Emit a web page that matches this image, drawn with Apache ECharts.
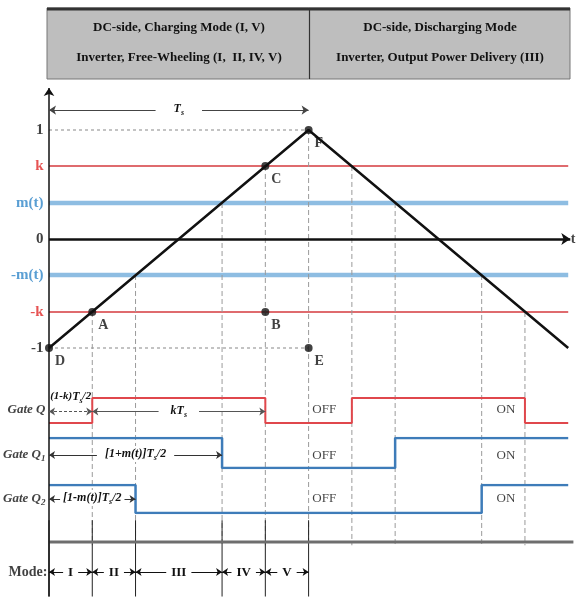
<!DOCTYPE html>
<html><head><meta charset="utf-8">
<script src="https://cdn.jsdelivr.net/npm/echarts@6/dist/echarts.min.js"></script>
<style>html,body{margin:0;padding:0;background:#fff}#c{width:576px;height:601px}</style>
</head><body><div id="c"></div>
<script>
// ---------- data ----------
const carrierT = [0, 1, 2];
const carrierV = [-1, 1, -1];
const kLevel = 0.67;
const mLevel = 0.33;
const levelLabels = ['1', 'k', 'm(t)', '0', '-m(t)', '-k', '-1'];
const levelValues = [1, 0.67, 0.33, 0, -0.33, -0.67, -1];
const levelColors = ['#111', '#e02828', '#2f86c8', '#111', '#2f86c8', '#e02828', '#111'];
const switchTimes = [1/6, 1/3, 2/3, 5/6, 1, 7/6, 4/3, 5/3, 11/6];
const switchLevels = [-0.67, -0.33, 0.33, 0.67, 1, 0.67, 0.33, -0.33, -0.67];
const gateQT = [0, 1/6, 5/6, 7/6, 11/6, 2];
const gateQV = [0, 1, 0, 1, 0, 0];
const gateQ1T = [0, 2/3, 4/3, 2];
const gateQ1V = [1, 0, 1, 1];
const gateQ2T = [0, 1/3, 5/3, 2];
const gateQ2V = [1, 0, 1, 1];
const pointNames = ['D', 'A', 'B', 'C', 'F', 'E'];
const pointT = [0, 1/6, 5/6, 5/6, 1, 1];
const pointV = [-1, -0.67, -0.67, 0.67, 1, -1];
const modeNames = ['I', 'II', 'III', 'IV', 'V'];
const modeBounds = [0, 1/6, 1/3, 2/3, 5/6, 1];
const gateNames = ['Q', 'Q1', 'Q2'];
const stateT = [1.06, 1.76];
const stateText = ['OFF', 'ON'];
const headerLeft = ['DC-side, Charging Mode (I, V)', 'Inverter, Free-Wheeling (I,  II, IV, V)'];
const headerRight = ['DC-side, Discharging Mode', 'Inverter, Output Power Delivery (III)'];

// ---------- layout constants ----------
const SERIF = 'Liberation Serif';
const X_MAX = 2.03;
const Y_TS = 1.183, Y_TOP = 1.385, Y_DASH_END = -2.81, Y_MODE_TOP = -2.58, Y_MODE_BOT = -3.28, Y_MODE_LINE = -2.78, Y_MODE_ARROW = -3.055;

function lineS(gi, data, ls, extra) {
  return Object.assign({
    type: 'line', xAxisIndex: gi, yAxisIndex: gi, data: data, symbol: 'none',
    lineStyle: ls, silent: true, animation: false
  }, extra || {});
}
function mlSeries(gi, lines) {
  return {
    type: 'line', xAxisIndex: gi, yAxisIndex: gi, data: [[0, gi === 0 ? 0 : 0.5]], symbol: 'none',
    lineStyle: {opacity: 0}, silent: true, animation: false, z: 3,
    markLine: {silent: true, animation: false, data: lines}
  };
}
function arrowLine(p0, p1, label, opts) {
  opts = opts || {};
  return [
    {coord: p0, symbol: opts.s0 || 'arrow', symbolSize: opts.size || 7,
      lineStyle: {color: opts.color || '#333', width: opts.width || 1, type: opts.type || 'solid'},
      label: label ? Object.assign({show: true, position: 'middle', distance: -7, fontFamily: SERIF, color: '#111',
        backgroundColor: '#fff', padding: [0, 4]}, label) : {show: false}},
    {coord: p1, symbol: opts.s1 || 'arrow', symbolSize: opts.size || 7}
  ];
}
const richIt = {
  i: {fontFamily: SERIF, fontStyle: 'italic', fontWeight: 'bold', fontSize: 12, color: '#111'},
  s: {fontFamily: SERIF, fontStyle: 'italic', fontWeight: 'bold', fontSize: 8, color: '#111', verticalAlign: 'bottom', padding: [8, 0, 0, 0]},
  n: {fontFamily: SERIF, fontWeight: 'bold', fontSize: 13, color: '#111'}
};
const HIDDEN = {color: 'rgba(0,0,0,0)'};

const series = [];
// horizontal reference levels
[kLevel, -kLevel].forEach(v => series.push(lineS(0, [[0, v], [2, v]], {color: '#df6b6e', width: 2})));
[mLevel, -mLevel].forEach(v => series.push(lineS(0, [[0, v], [2, v]], {color: '#8ebde2', width: 4.5})));
[1, -1].forEach(v => series.push(lineS(0, [[0, v], [1, v]], {color: '#b0b0b0', width: 1.5, type: [3, 3]})));
// vertical dashed lines at switching instants
switchTimes.forEach((t, i) => series.push(lineS(0, [[t, switchLevels[i]], [t, Y_DASH_END]], {color: '#9a9a9a', width: 1, type: [5, 3]})));
// mode row verticals
modeBounds.forEach(t => series.push(lineS(0, [[t, Y_MODE_TOP], [t, Y_MODE_BOT]], {color: '#222', width: 1})));
// mode row horizontal bar
series.push(lineS(0, [[0, Y_MODE_LINE], [2.02, Y_MODE_LINE]], {color: '#6e6e6e', width: 3}));
// carrier triangle
series.push(lineS(0, carrierT.map((t, i) => [t, carrierV[i]]), {color: '#111', width: 2.5}, {z: 5}));
// axes & dimension arrows in wave grid
const waveLines = [
  arrowLine([0, 0], [2.008, 0], null, {s0: 'none', color: '#111', width: 2.5, size: 9}),
  arrowLine([0, Y_MODE_BOT], [0, Y_TOP], null, {s0: 'none', color: '#111', width: 1.5, size: 8}),
  arrowLine([0, Y_TS], [1, Y_TS], {formatter: '{i|T}{s|s}', rich: richIt, padding: [0, 18]}, {color: '#444', width: 1.2}),
];
for (let i = 0; i < modeNames.length; i++) {
  waveLines.push(arrowLine([modeBounds[i], Y_MODE_ARROW], [modeBounds[i + 1], Y_MODE_ARROW],
    {formatter: modeNames[i], fontSize: 13, fontWeight: 'bold', padding: [0, 5]}, {color: '#111', width: 1.2, size: 6}));
}
series.push(mlSeries(0, waveLines));
// points A-F
series.push({
  type: 'scatter', xAxisIndex: 0, yAxisIndex: 0, symbolSize: 8, silent: true, animation: false, z: 6,
  itemStyle: {color: '#111'},
  data: pointNames.map((n, i) => ({value: [pointT[i], pointV[i]], name: n})),
  label: {show: true, position: 'right', offset: [-3, 13], formatter: p => p.name,
    fontFamily: SERIF, fontWeight: 'bold', fontSize: 14, color: '#111'}
});
// level labels
series.push({
  type: 'scatter', xAxisIndex: 0, yAxisIndex: 0, symbolSize: 1, silent: true, animation: false,
  itemStyle: HIDDEN, z: 7,
  data: levelLabels.map((n, i) => ({value: [0, levelValues[i]], name: n,
    label: {color: levelColors[i]}})),
  label: {show: true, position: 'left', distance: 5, formatter: p => p.name,
    fontFamily: SERIF, fontWeight: 'bold', fontSize: 15}
});
// "t" axis label and "Mode:" label
series.push({
  type: 'scatter', xAxisIndex: 0, yAxisIndex: 0, symbolSize: 1, silent: true, animation: false,
  itemStyle: HIDDEN, z: 7,
  data: [
    {value: [2.008, 0], name: 't', label: {position: 'right', distance: 0}},
    {value: [0, Y_MODE_ARROW], name: 'Mode:', label: {position: 'left', distance: 1}}
  ],
  label: {show: true, formatter: p => p.name, fontFamily: SERIF, fontWeight: 'bold', fontSize: 14, color: '#111'}
});

// gate signals
const gateData = [[gateQT, gateQV, '#e0474c', 2], [gateQ1T, gateQ1V, '#3e7cb9', 2.5], [gateQ2T, gateQ2V, '#3e7cb9', 2.5]];
gateData.forEach((g, i) => {
  series.push(lineS(i + 1, g[0].map((t, j) => [t, g[1][j]]), {color: g[2], width: g[3]}, {step: 'end', z: 4}));
});
// gate labels and ON/OFF
const gateLabelY = [0.52, 0.43, 0.52];
gateNames.forEach((n, i) => {
  const txt = n === 'Q' ? '{g|Gate Q}' : '{g|Gate Q}{b|' + n.slice(1) + '}';
  series.push({
    type: 'scatter', xAxisIndex: i + 1, yAxisIndex: i + 1, symbolSize: 1, silent: true, animation: false,
    itemStyle: HIDDEN, z: 7,
    data: [
      {value: [0, gateLabelY[i]], label: {position: 'left', distance: 3, formatter: txt}},
      {value: [stateT[0], gateLabelY[i]], label: {position: 'inside', formatter: stateText[0]}},
      {value: [stateT[1], gateLabelY[i]], label: {position: 'inside', formatter: stateText[1]}}
    ],
    label: {show: true, fontFamily: SERIF, fontSize: 13, color: '#111',
      rich: {
        g: {fontFamily: SERIF, fontStyle: 'italic', fontWeight: 'bold', fontSize: 13, color: '#111'},
        b: {fontFamily: SERIF, fontStyle: 'italic', fontWeight: 'bold', fontSize: 9, color: '#111', verticalAlign: 'bottom', padding: [8, 0, 0, 0]}
      }}
  });
});
// gate dimension arrows
series.push(mlSeries(1, [
  arrowLine([0, 0.46], [1/6, 0.46], {formatter: '{p|(1-k)}{i|T}{s|s}{p|/2}', position: 'insideMiddleTop', distance: 7,
    backgroundColor: 'transparent', padding: 0,
    rich: Object.assign({p: {fontFamily: SERIF, fontStyle: 'italic', fontWeight: 'bold', fontSize: 11, color: '#111'}}, richIt)},
    {color: '#555', width: 1, size: 6, type: [3, 2]}),
  arrowLine([1/6, 0.46], [5/6, 0.46], {formatter: '{i|kT}{s|s}', rich: richIt, padding: [0, 12]}, {color: '#555', width: 1, size: 6})
]));
series.push(mlSeries(2, [
  arrowLine([0, 0.43], [2/3, 0.43], {formatter: '{i|[1+m(t)]T}{s|s}{i|/2}', rich: richIt, padding: [0, 8]}, {color: '#333', width: 1, size: 6})
]));
series.push(mlSeries(3, [
  arrowLine([0, 0.5], [1/3, 0.5], {formatter: '{i|[1-m(t)]T}{s|s}{i|/2}', rich: richIt, padding: [0, 3]}, {color: '#333', width: 1, size: 6})
]));

const xAxes = [0, 1, 2, 3].map(g => ({gridIndex: g, type: 'value', min: 0, max: X_MAX, show: false}));
const yAxes = [
  {gridIndex: 0, type: 'value', min: -3.3, max: 1.4, show: false},
  {gridIndex: 1, type: 'value', min: 0, max: 1, show: false},
  {gridIndex: 2, type: 'value', min: 0, max: 1, show: false},
  {gridIndex: 3, type: 'value', min: 0, max: 1, show: false}
];

const option = {
  backgroundColor: '#fff',
  animation: false,
  grid: [
    {left: 49, top: 86.4, width: 527.8, height: 512.3},
    {left: 49, top: 398, width: 527.8, height: 25},
    {left: 49, top: 438, width: 527.8, height: 30},
    {left: 49, top: 485, width: 527.8, height: 28}
  ],
  xAxis: xAxes,
  yAxis: yAxes,
  graphic: [
    {type: 'rect', shape: {x: 47, y: 8, width: 523, height: 71}, style: {fill: '#bebebe', stroke: '#777', lineWidth: 1}, z: 1},
    {type: 'line', shape: {x1: 47, y1: 9, x2: 570, y2: 9}, style: {stroke: '#333', lineWidth: 3}, z: 2},
    {type: 'line', shape: {x1: 309.5, y1: 8, x2: 309.5, y2: 79}, style: {stroke: '#333', lineWidth: 1.2}, z: 2},
    {type: 'text', x: 179, y: 13, z: 10, style: {text: headerLeft.join('\n'), align: 'center', font: 'bold 13px "Liberation Serif"', lineHeight: 30, fill: '#111'}},
    {type: 'text', x: 440, y: 13, z: 10, style: {text: headerRight.join('\n'), align: 'center', font: 'bold 13px "Liberation Serif"', lineHeight: 30, fill: '#111'}}
  ],
  series: series
};
const chart = echarts.init(document.getElementById('c'), null, {renderer: 'canvas'});
chart.setOption(option);
</script></body></html>
